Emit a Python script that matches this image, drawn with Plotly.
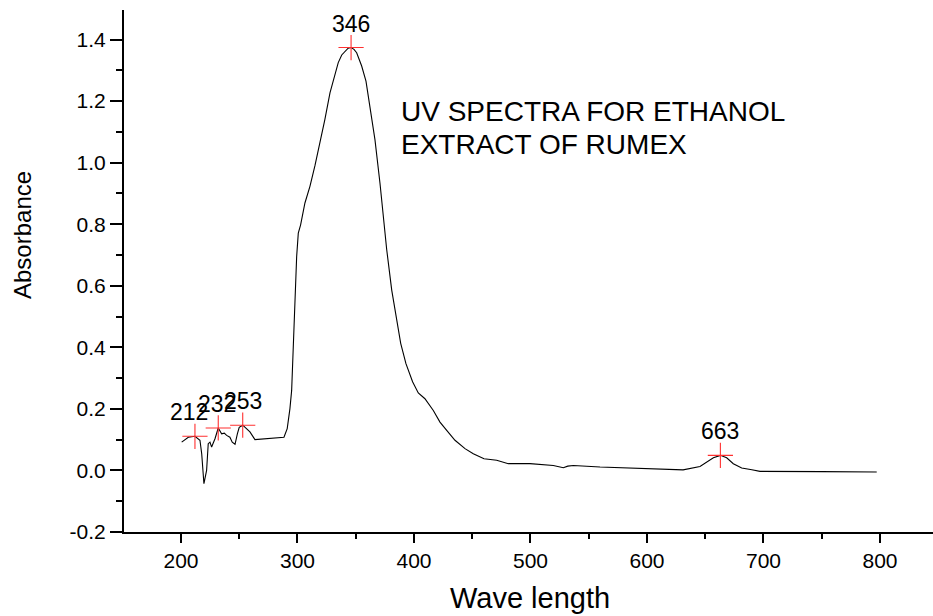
import plotly.graph_objects as go

wavelength = [200.6, 206.3, 212, 216.3, 217.8, 219.7, 222, 223.4, 224.9, 226.3, 229.2, 232, 234.9,
              237.2, 239.2, 242, 244, 246.4, 248.4, 250, 253, 256.4, 259.2, 263.5, 275, 285, 288.4,
              291.2, 293.5, 295, 296.4, 297.9, 299.3, 300.7, 302.7, 306.4, 310.7, 315, 319.3, 323.5,
              327.9, 331.5, 335, 338, 340.8, 343.5, 346, 348.5, 350.8, 353, 355.1, 358.8, 362.2,
              366.5, 370.8, 372.3, 375.1, 376.6, 380.9, 385.2, 388.6, 393.1, 398.8, 403.7, 409.4,
              416.6, 422.3, 428.1, 435.2, 443.8, 450.9, 460.1, 471, 481, 499.6, 519.6, 528.2, 532,
              536.8, 559.7, 576.8, 600, 619.7, 631, 645.5, 651.2, 657, 663, 668.4, 674.1, 681.3, 690,
              697, 750, 797.2]
absorbance = [0.092, 0.108, 0.111, 0.098, 0.054, -0.043, 0.0, 0.087, 0.092, 0.076, 0.103, 0.138, 0.119,
              0.121, 0.114, 0.108, 0.092, 0.085, 0.119, 0.140, 0.147, 0.136, 0.125, 0.100, 0.103, 0.106, 0.108,
              0.136, 0.20, 0.26, 0.391, 0.586, 0.695, 0.771, 0.798, 0.869, 0.923, 0.99, 1.064, 1.14,
              1.227, 1.28, 1.325, 1.35, 1.363, 1.372, 1.374, 1.368, 1.357, 1.338, 1.314, 1.265, 1.183,
              1.075, 0.934, 0.879, 0.782, 0.717, 0.586, 0.489, 0.413, 0.347, 0.288, 0.252, 0.233,
              0.195, 0.157, 0.130, 0.098, 0.071, 0.054, 0.038, 0.033, 0.022, 0.022, 0.016, 0.009, 0.014,
              0.016, 0.011, 0.009, 0.006, 0.004, 0.002, 0.013, 0.027, 0.041, 0.049, 0.041, 0.022, 0.008, 0.002,
              -0.003, -0.004, -0.005]

peak_wl = [212, 232, 253, 346, 663]
peak_abs = [0.111, 0.138, 0.147, 1.374, 0.049]
peak_labels = ["212", "232", "253", "346", "663"]
peak_xshift = [-6, -1, 0, 0, 0]

x_tickvals = [200, 300, 400, 500, 600, 700, 800]
y_tickvals = [-0.2, 0.0, 0.2, 0.4, 0.6, 0.8, 1.0, 1.2, 1.4]
y_ticktext = ["-0.2", "0.0", "0.2", "0.4", "0.6", "0.8", "1.0", "1.2", "1.4"]

title_lines = ["UV SPECTRA FOR ETHANOL", "EXTRACT OF RUMEX"]
x_title = "Wave length"
y_title = "Absorbance"

FONT = "Liberation Sans, Arial, sans-serif"

fig = go.Figure()
fig.add_trace(go.Scatter(x=wavelength, y=absorbance, mode="lines",
                         line=dict(color="black", width=1.1), hoverinfo="skip"))
fig.add_trace(go.Scatter(x=peak_wl, y=peak_abs, mode="markers",
                         marker=dict(symbol="cross-thin", size=18,
                                     line=dict(color="#ff3030", width=1.1))))

for x, y, t, dx in zip(peak_wl, peak_abs, peak_labels, peak_xshift):
    fig.add_annotation(x=x, y=y, text=t, showarrow=False, xshift=dx, yshift=24,
                       font=dict(family=FONT, size=23, color="black"))

for line, py in zip(title_lines, [112, 145]):
    fig.add_annotation(xref="paper", yref="paper", x=(399 - 124) / 809, y=(532 - py) / 522,
                       text=line, showarrow=False, xanchor="left", yanchor="middle", align="left",
                       font=dict(family=FONT, size=28, color="black"))

fig.add_annotation(xref="paper", yref="paper", x=(530 - 124) / 809, y=-(598 - 532) / 522,
                   text=x_title, showarrow=False, xanchor="center", yanchor="middle",
                   font=dict(family=FONT, size=29, color="black"))
fig.add_annotation(xref="paper", yref="paper", x=-(124 - 22) / 809, y=(532 - 235) / 522,
                   text=y_title, showarrow=False, xanchor="center", yanchor="middle", textangle=-90,
                   font=dict(family=FONT, size=24, color="black"))

axis_common = dict(showgrid=False, zeroline=False, showline=True, linecolor="black", linewidth=2,
                   ticks="outside", tickcolor="black", tickwidth=2,
                   tickfont=dict(family=FONT, size=21, color="black"))

fig.update_xaxes(range=[151.1, 845.5], tickvals=x_tickvals, ticklen=9,
                 minor=dict(dtick=50, tick0=150, ticks="outside", ticklen=5, tickwidth=2, tickcolor="black"),
                 **axis_common)
fig.update_yaxes(range=[-0.2, 1.496], tickvals=y_tickvals, ticktext=y_ticktext, ticklen=12,
                 minor=dict(dtick=0.1, tick0=-0.1, ticks="outside", ticklen=6, tickwidth=2, tickcolor="black"),
                 **axis_common)

fig.update_layout(width=933, height=616, margin=dict(l=124, r=0, t=10, b=84),
                  plot_bgcolor="white", paper_bgcolor="white", showlegend=False)

fig.write_html("out.html")
